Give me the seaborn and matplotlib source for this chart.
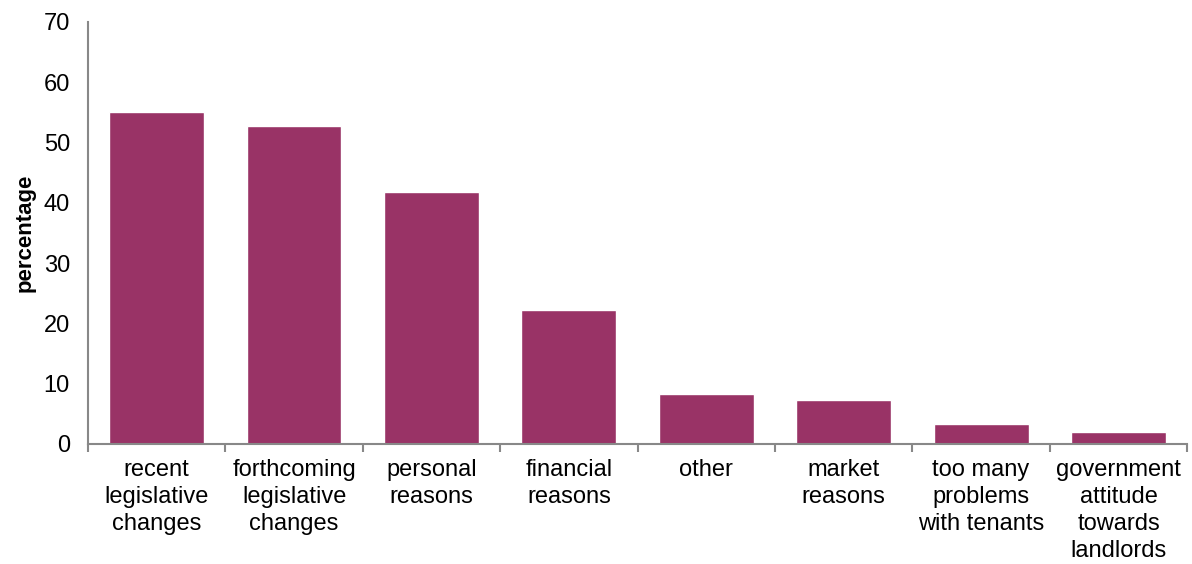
import numpy as np
import pandas as pd
import seaborn as sns
import matplotlib.pyplot as plt
from matplotlib.ticker import FixedLocator

# reasons for leaving / reducing
reasons = ['recent\nlegislative\nchanges', 'forthcoming\nlegislative\nchanges',
           'personal\nreasons', 'financial\nreasons', 'other', 'market\nreasons',
           'too many\nproblems\nwith tenants', 'government\nattitude\ntowards\nlandlords']
percentages = [55.0, 52.8, 41.8, 22.2, 8.3, 7.3, 3.3, 2.0]

df = pd.DataFrame({'reason': reasons, 'percentage': percentages})

sns.set_style('white')
plt.rcParams['font.family'] = ['Liberation Sans', 'DejaVu Sans']
plt.rcParams['text.color'] = 'black'
plt.rcParams['axes.labelcolor'] = 'black'

fig = plt.figure(figsize=(11.92, 5.64), dpi=100)
ax = fig.add_axes([0.0738, 0.2128, 0.9222, 0.7482])

sns.barplot(data=df, x='reason', y='percentage', color='#993366',
            saturation=1, width=0.69, ax=ax)

ax.set_xlim(-0.5, len(reasons) - 0.5)
ax.set_ylim(0, 70)
ax.set_yticks(np.arange(0, 71, 10))
ax.set_xlabel('')
ax.set_ylabel('percentage', fontsize=16, fontweight='bold', labelpad=6)

# excel style: ticks between categories
ax.xaxis.set_minor_locator(FixedLocator(np.arange(-0.5, len(reasons), 1)))
ax.tick_params(axis='x', which='major', length=0, pad=11, labelsize=17, labelcolor='black')
ax.tick_params(axis='x', which='minor', length=6, width=1.5, color='#888888',
               direction='out', bottom=True)
ax.tick_params(axis='y', which='major', length=6, width=1.5, color='#888888',
               direction='out', labelsize=17, pad=7, labelcolor='black')
for lbl in ax.get_xticklabels():
    lbl.set_linespacing(1.28)

for side in ['top', 'right']:
    ax.spines[side].set_visible(False)
for side in ['left', 'bottom']:
    ax.spines[side].set_color('#888888')
    ax.spines[side].set_linewidth(1.5)

fig.savefig('out.png', dpi=100)
